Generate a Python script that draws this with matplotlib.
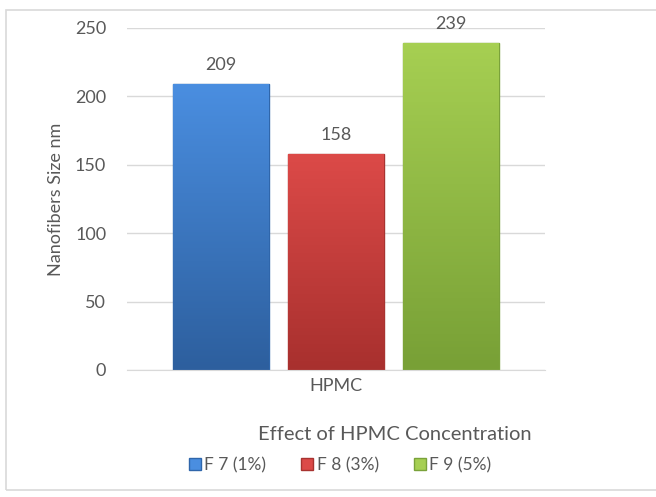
import numpy as np
import matplotlib.pyplot as plt
from matplotlib.patches import Rectangle
from matplotlib.colors import LinearSegmentedColormap

# chart data
series = ['F 7 (1%)', 'F 8 (3%)', 'F 9 (5%)']
values = [209, 158, 239]
category = 'HPMC'
yticks = [0, 50, 100, 150, 200, 250]

# light / dark shades used for the bevelled bar look
light = ['#4a8ee0', '#dc4a48', '#a6cf52']
dark = ['#2d5f9e', '#a8302e', '#78a036']
edge = ['#2f66ab', '#a83330', '#7aa23a']

plt.rcParams['font.family'] = ['Lato', 'DejaVu Sans']
grey = '#595959'

fig = plt.figure(figsize=(6.56, 4.97), dpi=100)
fig.patches.append(Rectangle((6 / 656, 7 / 497), 1.0, 480 / 497, transform=fig.transFigure,
                             fill=False, edgecolor='#d9d9d9', linewidth=1.2))

ax = fig.add_axes([127 / 656, 127 / 497, 418 / 656, 342 / 497])
x = np.arange(len(values))
w = 0.83
bars = ax.bar(x, values, width=w, color=light, edgecolor=edge, linewidth=1, zorder=2)

# vertical gradient inside each bar
grad = np.linspace(0, 1, 100).reshape(-1, 1)
for b, lo, hi in zip(bars, light, dark):
    cmap = LinearSegmentedColormap.from_list('g', [hi, lo])
    im = ax.imshow(grad, cmap=cmap, aspect='auto', origin='lower', zorder=2.5,
                   extent=[b.get_x(), b.get_x() + b.get_width(), 0, b.get_height()])
    im.set_clip_path(b)

for xi, v in zip(x, values):
    ax.text(xi, v + 8, str(v), ha='center', va='bottom', fontsize=13, color=grey)

ax.set_xlim(-0.813, 2.813)
ax.set_ylim(0, 250)
ax.set_yticks(yticks)
ax.set_xticks([1])
ax.set_xticklabels([category])
ax.tick_params(axis='both', length=0, labelsize=13, labelcolor=grey)
ax.tick_params(axis='y', pad=15)
ax.tick_params(axis='x', pad=6)
ax.grid(axis='y', color='#d9d9d9', linewidth=1, zorder=0)
ax.set_axisbelow(True)
for s in ['top', 'right', 'left']:
    ax.spines[s].set_visible(False)
ax.spines['bottom'].set_color('#d9d9d9')

ax.set_ylabel('Nanofibers Size nm', fontsize=13, color=grey, labelpad=8)
fig.text(395 / 656, 1 - 435 / 497, 'Effect of HPMC Concentration', ha='center', va='center',
         fontsize=14.5, color=grey)

handles = [Rectangle((0, 0), 1, 1, facecolor=c, edgecolor=e) for c, e in zip(light, edge)]
fig.legend(handles, series, loc='center', bbox_to_anchor=(340 / 656, 1 - 465 / 497), ncol=3,
           frameon=False, fontsize=12.5, labelcolor=grey, handlelength=0.7, handleheight=0.7,
           handletextpad=0.2, columnspacing=2.0)

fig.savefig('out.png', dpi=100)
